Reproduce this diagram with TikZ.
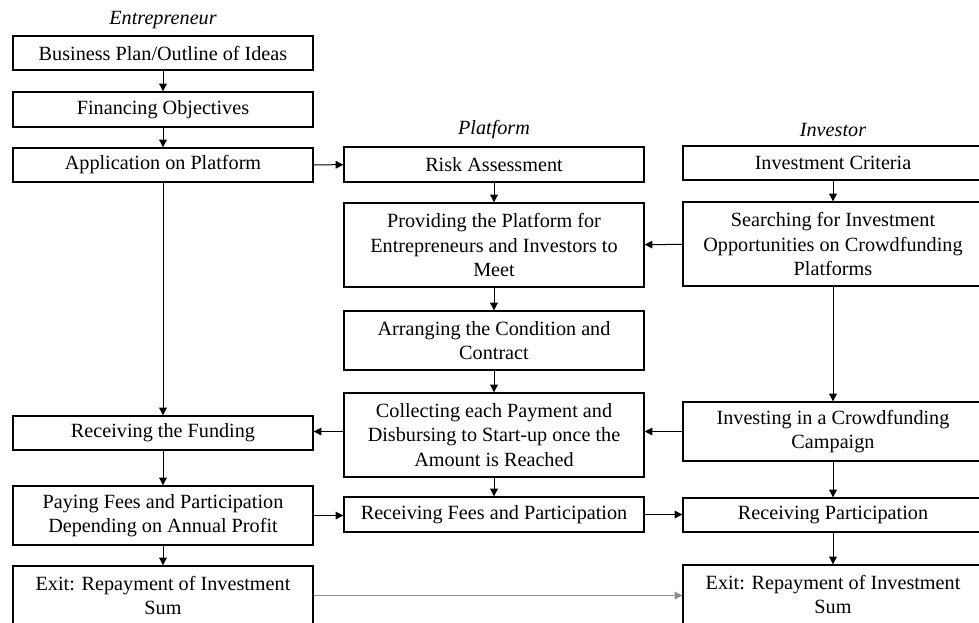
\documentclass[tikz,border=0pt]{standalone}
\usepackage{fontspec}
\setmainfont{Liberation Serif}
\usetikzlibrary{arrows.meta}
\tikzset{blk/.style={draw, line width=0.7pt, minimum width=150pt, align=center,
  inner sep=0pt, font=\fontsize{10.1}{12.3}\selectfont},
  arr/.style={-{Triangle[length=3.8pt,width=3.8pt]}, line width=0.5pt},
  lane/.style={font=\fontsize{10.1}{12.3}\selectfont\itshape}}

\begin{document}
\begin{tikzpicture}[x=0.5pt,y=-0.5pt]
  \useasboundingbox (0,0) rectangle (979,622);
  % lane titles
  \node[lane] (tE) at (163,20) {Entrepreneur};
  \node[lane] (tP) at (494,130) {Platform};
  \node[lane] (tI) at (833,130) {Investor};
  % entrepreneur column
  \node[blk, minimum height=17pt] (bp)  at (163,53)    {Business Plan/Outline of Ideas};
  \node[blk, minimum height=17.5pt] (fo)  at (163,109.5) {Financing Objectives};
  \node[blk, minimum height=17pt] (app) at (163,165)   {Application on Platform};
  \node[blk, minimum height=17pt] (rf)  at (163,433)   {Receiving the Funding};
  \node[blk, minimum height=29.5pt] (pay) at (163,515.5) {Paying Fees and Participation\\Depending on Annual Profit};
  \node[blk, minimum height=29.5pt] (exE) at (163,595.5) {Exit: Repayment of Investment\\Sum};
  % platform column
  \node[blk, minimum height=17.5pt] (risk) at (494,164.5) {Risk Assessment};
  \node[blk, minimum height=42pt] (prov) at (494,245)   {Providing the Platform for\\Entrepreneurs and Investors to\\Meet};
  \node[blk, minimum height=29.5pt] (arg)  at (494,340.5) {Arranging the Condition and\\Contract};
  \node[blk, minimum height=42pt] (coll) at (494,435)   {Collecting each Payment and\\Disbursing to Start-up once the\\Amount is Reached};
  \node[blk, minimum height=17.5pt] (rfp)  at (494,514.5) {Receiving Fees and Participation};
  % investor column
  \node[blk, minimum height=17pt] (crit) at (833,163)   {Investment Criteria};
  \node[blk, minimum height=42pt] (srch) at (833,244)   {Searching for Investment\\Opportunities on Crowdfunding\\Platforms};
  \node[blk, minimum height=29.5pt] (inv)  at (833,431.5) {Investing in a Crowdfunding\\Campaign};
  \node[blk, minimum height=17pt] (rp)   at (833,515)   {Receiving Participation};
  \node[blk, minimum height=29.5pt] (exI)  at (833,594.5) {Exit: Repayment of Investment\\Sum};

  % vertical flows
  \draw[arr] (bp) -- (fo);
  \draw[arr] (fo) -- (app);
  \draw[arr] (app) -- (rf);
  \draw[arr] (rf) -- (pay);
  \draw[arr] (pay) -- (exE);
  \draw[arr] (risk) -- (prov);
  \draw[arr] (prov) -- (arg);
  \draw[arr] (arg) -- (coll);
  \draw[arr] (coll) -- (rfp);
  \draw[arr] (crit) -- (srch);
  \draw[arr] (srch) -- (inv);
  \draw[arr] (inv) -- (rp);
  \draw[arr] (rp) -- (exI);
  % horizontal flows
  \draw[arr] (app) -- (risk);
  \draw[arr] (srch) -- (prov);
  \draw[arr] (inv.west) -- (inv.west -| coll.east);
  \draw[arr] (inv.west -| coll.west) -- (inv.west -| rf.east);
  \draw[arr] (pay) -- (pay -| rfp.west);
  \draw[arr] (rfp) -- (rfp -| rp.west);
  \draw[arr, draw=black!45] (exE) -- (exE -| exI.west);
\end{tikzpicture}
\end{document}
